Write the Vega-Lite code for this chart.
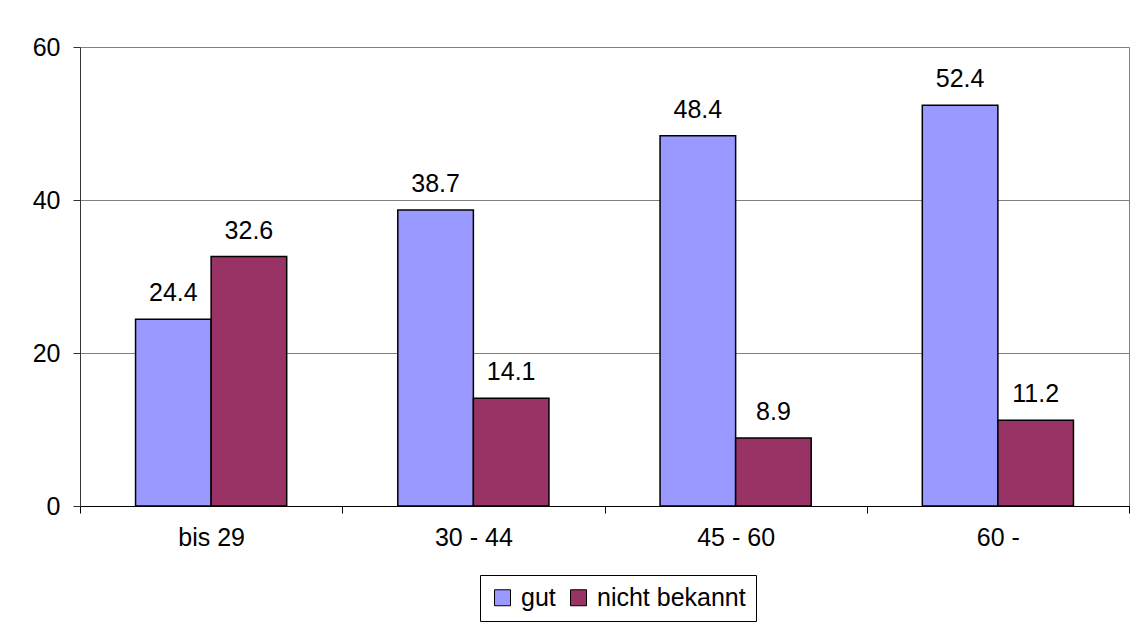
{
  "$schema": "https://vega.github.io/schema/vega-lite/v6.json",
  "width": 1049,
  "height": 459,
  "autosize": {"type": "none"},
  "padding": {"left": 80, "top": 47, "right": 10, "bottom": 126},
  "background": "white",
  "config": {
    "font": "Liberation Sans",
    "view": {"stroke": "#808080", "strokeWidth": 1}
  },
  "data": {
    "values": [
      {"age": "bis 29", "series": "gut", "value": 24.4},
      {"age": "bis 29", "series": "nicht bekannt", "value": 32.6},
      {"age": "30 - 44", "series": "gut", "value": 38.7},
      {"age": "30 - 44", "series": "nicht bekannt", "value": 14.1},
      {"age": "45 - 60", "series": "gut", "value": 48.4},
      {"age": "45 - 60", "series": "nicht bekannt", "value": 8.9},
      {"age": "60 -", "series": "gut", "value": 52.4},
      {"age": "60 -", "series": "nicht bekannt", "value": 11.2}
    ]
  },
  "encoding": {
    "x": {
      "field": "age",
      "type": "nominal",
      "sort": ["bis 29", "30 - 44", "45 - 60", "60 -"],
      "scale": {"paddingInner": 0, "paddingOuter": 0},
      "axis": {
        "title": null,
        "labelAngle": 0,
        "tickBand": "extent",
        "labelFontSize": 25,
        "labelColor": "black",
        "labelPadding": 12,
        "tickSize": 7,
        "tickColor": "black",
        "domainColor": "black",
        "domainWidth": 1
      }
    },
    "xOffset": {
      "field": "series",
      "type": "nominal",
      "sort": ["gut", "nicht bekannt"],
      "scale": {"paddingInner": 0, "paddingOuter": 0.735}
    },
    "y": {
      "field": "value",
      "type": "quantitative",
      "scale": {"domain": [0, 60], "nice": false},
      "axis": {
        "title": null,
        "values": [0, 20, 40, 60],
        "grid": true,
        "gridColor": "#808080",
        "gridWidth": 1,
        "labelFontSize": 25,
        "labelColor": "black",
        "labelPadding": 13,
        "tickSize": 7,
        "tickColor": "#333333",
        "domainColor": "#333333"
      }
    }
  },
  "layer": [
    {
      "mark": {"type": "bar", "stroke": "black", "strokeWidth": 1.5, "opacity": 1},
      "encoding": {
        "color": {
          "field": "series",
          "type": "nominal",
          "scale": {"domain": ["gut", "nicht bekannt"], "range": ["#9999FF", "#993366"]},
          "legend": {
            "title": null,
            "orient": "none",
            "direction": "horizontal",
            "legendX": 400,
            "legendY": 528,
            "strokeColor": "black",
            "padding": 10,
            "symbolType": "square",
            "symbolSize": 256,
            "symbolStrokeColor": "black",
            "symbolStrokeWidth": 1,
            "symbolOpacity": 1,
            "labelFontSize": 25,
            "labelColor": "black",
            "labelOffset": 6,
            "columnPadding": 10
          }
        }
      }
    },
    {
      "mark": {"type": "text", "fontSize": 25, "dy": -18, "baseline": "alphabetic", "color": "black"},
      "encoding": {
        "text": {"field": "value", "type": "quantitative", "format": ".1f"}
      }
    }
  ]
}
